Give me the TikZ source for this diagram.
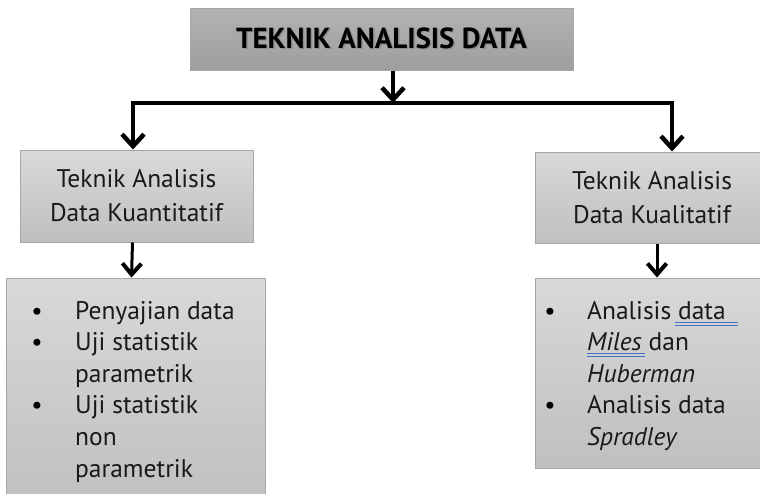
\documentclass[tikz,border=0pt]{standalone}
\usepackage{fontspec}
\setmainfont{PT Sans}
\usetikzlibrary{arrows.meta}
\definecolor{boxedge}{HTML}{A6A6A6}
\definecolor{spell}{HTML}{4472C4}
\tikzset{
  x=1pt, y=-1pt,
  graybox/.style={draw=boxedge, line width=1pt, top color=black!15, bottom color=black!25, inner sep=0pt, align=center},
  titlebox/.style={draw=boxedge, line width=1pt, top color=black!30, bottom color=black!38, inner sep=0pt},
  boxtxt/.style={font=\fontsize{25.5}{34}\selectfont, text=black!90},
  listtxt/.style={font=\fontsize{25.5}{31}\selectfont, text=black!90, anchor=base west, inner sep=0pt},
  bul/.style={font=\fontsize{25}{31}\selectfont, anchor=base, inner sep=0pt},
  conn/.style={line width=3.5pt, line cap=rect},
  arr/.style={line width=3.5pt, -{Straight Barb[length=12pt,width=22pt,line width=4.5pt]}},
  arr2/.style={line width=3pt, -{Straight Barb[length=11pt,width=19pt,line width=4pt]}},
  uline/.style={draw=spell, line width=0.9pt}
}
\begin{document}
\begin{tikzpicture}
\useasboundingbox (0,0) rectangle (760,493);
\clip (0,0) rectangle (760,493);
% title
\node[titlebox, minimum width=383pt, minimum height=62pt] (title) at (381.5,39) {};
\node[font=\fontsize{29}{34}\selectfont\bfseries, text=black!45, anchor=base, inner sep=0pt] (titleshadow) at (383,49.5) {TEKNIK ANALISIS DATA};
\node[font=\fontsize{29}{34}\selectfont\bfseries, text=black, anchor=base, inner sep=0pt] (titletxt) at (381.5,48) {TEKNIK ANALISIS DATA};
% level 2 boxes
\node[graybox, boxtxt, minimum width=233pt, minimum height=92pt] (lb2) at (136.5,196) {Teknik Analisis\\Data Kuantitatif};
\node[graybox, boxtxt, minimum width=234pt, minimum height=91pt] (rb2) at (652,197.5) {Teknik Analisis\\Data Kualitatif};
% level 3 boxes
\node[graybox, minimum width=259pt, minimum height=230pt] (lb3) at (135.5,393) {};
\node[graybox, minimum width=234pt, minimum height=190pt] (rb3) at (652,373) {};
% connectors
\coordinate (j) at (393,103);
\coordinate (jl) at (133,103);
\coordinate (jr) at (672,103);
\draw[arr] (title.south -| j) -- (j);
\draw[conn] (jl) -- (jr);
\draw[arr] (jl) -- (jl |- lb2.north);
\draw[arr] (jr) -- (jr |- rb2.north);
\draw[arr2] ([xshift=-4pt]lb2.south) -- ([xshift=-4pt]lb3.north);
\draw[arr2] ([xshift=5pt]rb2.south) -- ([xshift=5pt]rb3.north);
% left list
\node[bul] (lbul1) at (37,319) {\textbullet};
\node[bul] (lbul2) at (37,350) {\textbullet};
\node[bul] (lbul3) at (37,413) {\textbullet};
\node[listtxt] (lt1) at (75,319) {Penyajian data};
\node[listtxt] (lt2) at (75,350) {Uji statistik};
\node[listtxt] (lt3) at (75,382) {parametrik};
\node[listtxt] (lt4) at (75,413) {Uji statistik};
\node[listtxt] (lt5) at (75,445) {non};
\node[listtxt] (lt6) at (75,477) {parametrik};
% right list
\node[bul] (rbul1) at (550,319) {\textbullet};
\node[bul] (rbul2) at (550,413) {\textbullet};
\node[listtxt] (rt1) at (587,319) {Analisis data};
\node[listtxt] (rt2) at (587,350) {\textit{Miles} dan};
\node[listtxt] (rt3) at (587,382) {\textit{Huberman}};
\node[listtxt] (rt4) at (587,413) {Analisis data};
\node[listtxt] (rt5) at (587,445) {\textit{Spradley}};
% spell-check underlines
\draw[uline] (675,322) -- (738,322);
\draw[uline] (675,325) -- (738,325);
\draw[uline] (587,353) -- (645,353);
\draw[uline] (587,356) -- (645,356);
\end{tikzpicture}
\end{document}
